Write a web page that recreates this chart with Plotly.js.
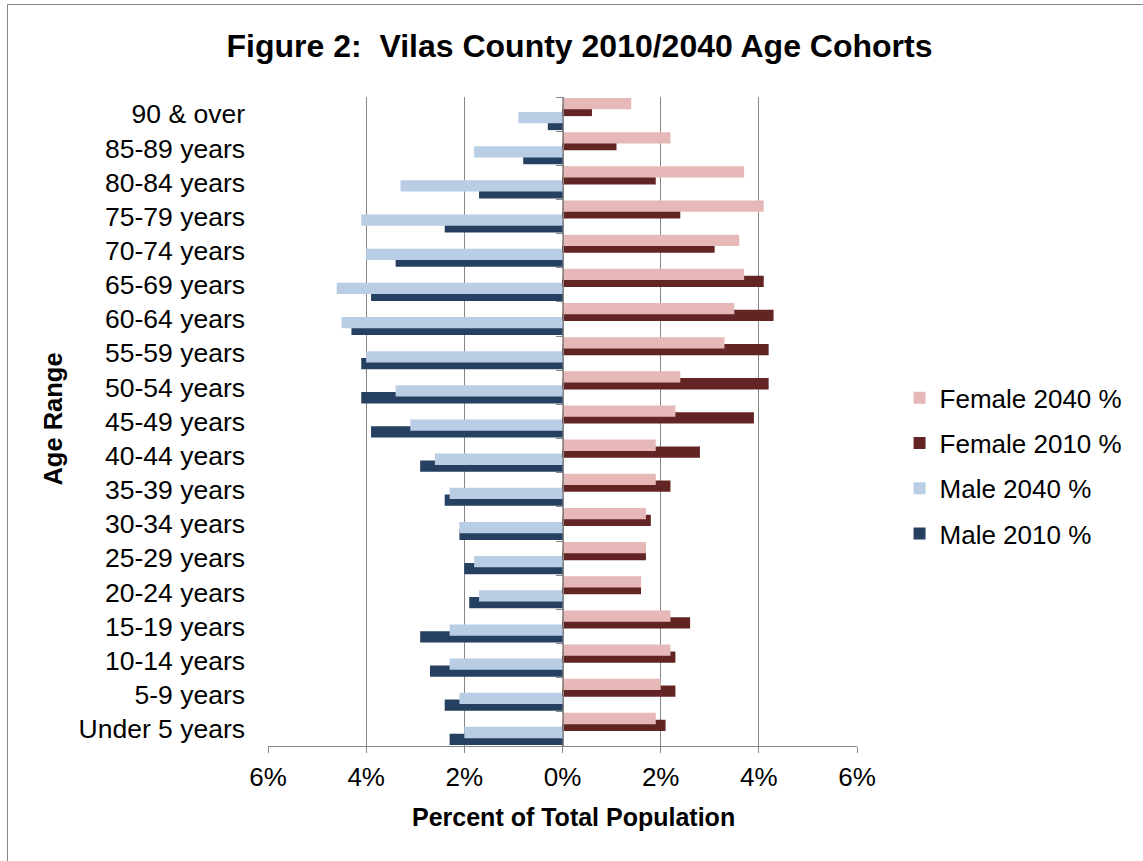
<!DOCTYPE html>
<html>
<head>
<meta charset="utf-8">
<script src="https://cdn.plot.ly/plotly-3.0.1.min.js"></script>
<style>
  html, body { margin: 0; padding: 0; background: #ffffff; }
  #chart { width: 1143px; height: 861px; }
</style>
</head>
<body>
<div id="chart"></div>
<script>
// Age cohorts, listed bottom to top
const ageGroups = [
  "Under 5 years", "5-9 years", "10-14 years", "15-19 years", "20-24 years",
  "25-29 years", "30-34 years", "35-39 years", "40-44 years", "45-49 years",
  "50-54 years", "55-59 years", "60-64 years", "65-69 years", "70-74 years",
  "75-79 years", "80-84 years", "85-89 years", "90 & over"
];

// Percent of total population
const female2040 = [1.9, 2.0, 2.2, 2.2, 1.6, 1.7, 1.7, 1.9, 1.9, 2.3, 2.4, 3.3, 3.5, 3.7, 3.6, 4.1, 3.7, 2.2, 1.4];
const female2010 = [2.1, 2.3, 2.3, 2.6, 1.6, 1.7, 1.8, 2.2, 2.8, 3.9, 4.2, 4.2, 4.3, 4.1, 3.1, 2.4, 1.9, 1.1, 0.6];
const male2040   = [2.0, 2.1, 2.3, 2.3, 1.7, 1.8, 2.1, 2.3, 2.6, 3.1, 3.4, 4.0, 4.5, 4.6, 4.0, 4.1, 3.3, 1.8, 0.9];
const male2010   = [2.3, 2.4, 2.7, 2.9, 1.9, 2.0, 2.1, 2.4, 2.9, 3.9, 4.1, 4.1, 4.3, 3.9, 3.4, 2.4, 1.7, 0.8, 0.3];

// Axis ticks: males extend left, so the labels show magnitudes only
const xTickValues = [-6, -4, -2, 0, 2, 4, 6];
const xTickLabels = ["6%", "4%", "2%", "0%", "2%", "4%", "6%"];

const FONT = "Liberation Sans, Arial, Helvetica, sans-serif";
const GRID = "#868686";
const BAR_W = 0.33;

function barTrace(name, values, color, offset, sign, rank) {
  return {
    type: "bar",
    orientation: "h",
    name: name,
    legendgroup: name,
    legendrank: rank,
    y: ageGroups,
    x: values.map(v => sign * v),
    customdata: values,
    hovertemplate: "%{y}: %{customdata}%<extra>" + name + "</extra>",
    width: BAR_W,
    offset: offset,
    marker: { color: color, line: { width: 0 } }
  };
}

// Drawing order: darker bar first so the lighter one sits on top of it
const traces = [
  barTrace("Male 2010 %",   male2010,   "#254061", -0.47, -1, 4),
  barTrace("Male 2040 %",   male2040,   "#B9CDE5", -0.27, -1, 3),
  barTrace("Female 2010 %", female2010, "#632523", -0.06,  1, 2),
  barTrace("Female 2040 %", female2040, "#E6B9B8",  0.14,  1, 1),
  // carries the centre axis with its category boundary ticks
  { type: "scatter", x: [], y: [], yaxis: "y2", showlegend: false, hoverinfo: "skip" }
];

const nCat = ageGroups.length;
const boundaryTicks = Array.from({ length: nCat + 1 }, (_, i) => i - 0.5);

const layout = {
  width: 1143,
  height: 861,
  paper_bgcolor: "#ffffff",
  plot_bgcolor: "#ffffff",
  margin: { l: 268, r: 286, t: 97, b: 115, pad: 0 },
  barmode: "overlay",
  font: { family: FONT, size: 26, color: "#000000" },
  title: {
    text: "<b>Figure 2:  Vilas County 2010/2040 Age Cohorts</b>",
    font: { family: FONT, size: 32, color: "#000000" },
    x: 0.507, xanchor: "center", xref: "container",
    y: 0.947, yanchor: "middle", yref: "container"
  },
  xaxis: {
    range: [-6, 6],
    tickvals: xTickValues,
    ticktext: xTickLabels,
    showgrid: true, gridcolor: GRID, gridwidth: 1.2,
    zeroline: true, zerolinecolor: GRID, zerolinewidth: 1.2,
    showline: true, linecolor: GRID, linewidth: 1.2,
    ticks: "outside", ticklen: 6, tickcolor: GRID, tickwidth: 1.2,
    ticklabelstandoff: 2,
    tickfont: { family: FONT, size: 26, color: "#000000" },
    fixedrange: true
  },
  yaxis: {
    type: "category",
    categoryorder: "array",
    categoryarray: ageGroups,
    range: [-0.5, nCat - 0.5],
    showgrid: false, zeroline: false, showline: false,
    ticks: "",
    ticklabelstandoff: 22,
    tickfont: { family: FONT, size: 26.5, color: "#000000" },
    fixedrange: true
  },
  yaxis2: {
    overlaying: "y",
    anchor: "free",
    position: 0.5,
    side: "left",
    range: [-0.5, nCat - 0.5],
    tickvals: boundaryTicks,
    showticklabels: false,
    ticks: "outside", ticklen: 6, tickcolor: GRID, tickwidth: 1.2,
    showline: true, linecolor: GRID, linewidth: 1.2,
    showgrid: false, zeroline: false,
    fixedrange: true
  },
  legend: {
    xref: "container", yref: "container",
    x: 0.787, xanchor: "left",
    y: 0.459, yanchor: "middle",
    traceorder: "grouped",
    tracegroupgap: 8.5,
    font: { family: FONT, size: 26, color: "#000000" },
    bgcolor: "rgba(0,0,0,0)",
    itemclick: false, itemdoubleclick: false
  },
  annotations: [
    {
      text: "<b>Percent of Total Population</b>",
      xref: "paper", yref: "paper",
      x: 0.518, y: -0.109, xanchor: "center", yanchor: "middle",
      showarrow: false,
      font: { family: FONT, size: 25, color: "#000000" }
    },
    {
      text: "<b>Age Range</b>",
      xref: "paper", yref: "paper",
      x: -0.365, y: 0.503, xanchor: "center", yanchor: "middle",
      textangle: -90,
      showarrow: false,
      font: { family: FONT, size: 25.5, color: "#000000" }
    }
  ],
  shapes: [
    {
      type: "rect", xref: "paper", yref: "paper", layer: "below",
      x0: (7.5 - 268) / 589, x1: (1160 - 268) / 589,
      y0: (746 - 870) / 649, y1: (746 - 4.5) / 649,
      line: { color: GRID, width: 1 }, fillcolor: "rgba(0,0,0,0)"
    }
  ]
};

Plotly.newPlot("chart", traces, layout, { displayModeBar: false, responsive: false });
</script>
</body>
</html>
